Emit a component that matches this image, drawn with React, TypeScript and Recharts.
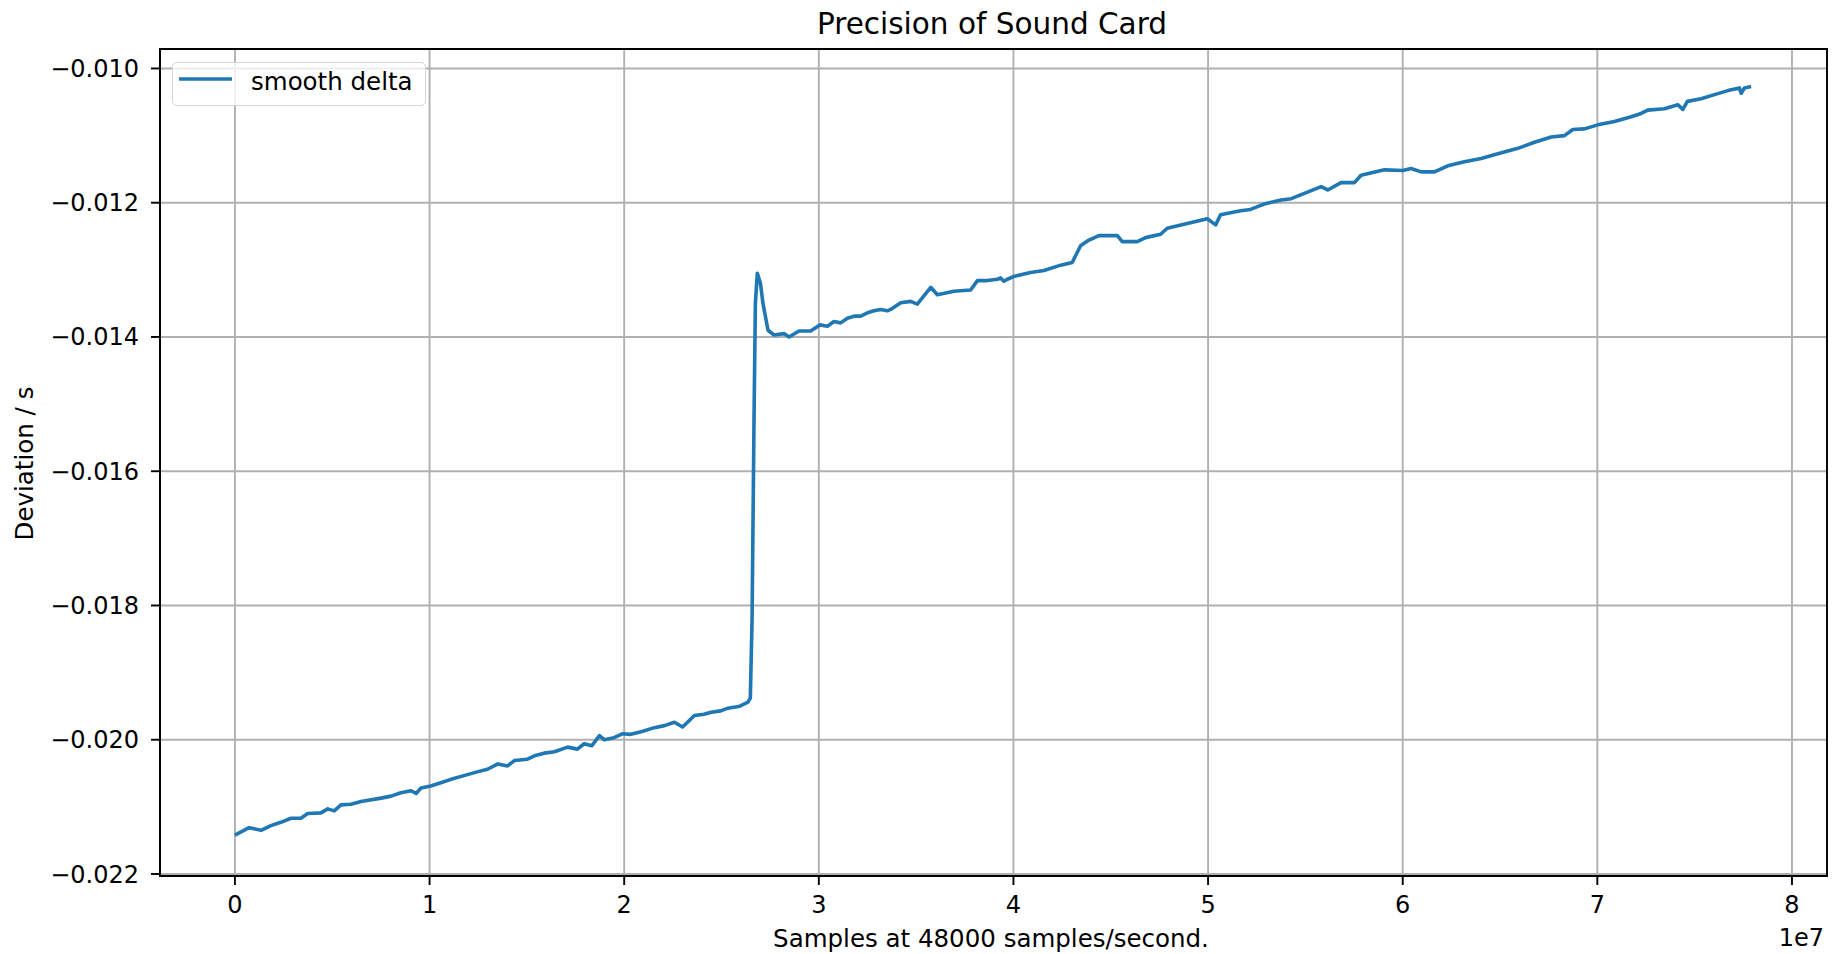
import {
  LineChart,
  Line,
  XAxis,
  YAxis,
  CartesianGrid,
  Legend,
  ReferenceArea,
} from "recharts";

// x positions in units of 1e7 samples (the axis shows the 1e7 offset)
const SAMPLES_E7 = [
  0.0, 0.073, 0.134, 0.185, 0.236, 0.288, 0.339, 0.374, 0.442, 0.477, 0.51,
  0.545, 0.596, 0.648, 0.751, 0.802, 0.853, 0.905, 0.931, 0.956, 1.006, 1.058,
  1.11, 1.195, 1.23, 1.298, 1.351, 1.401, 1.436, 1.503, 1.539, 1.589, 1.642,
  1.709, 1.76, 1.794, 1.833, 1.873, 1.897, 1.948, 1.993, 2.034, 2.087, 2.155,
  2.207, 2.258, 2.3, 2.361, 2.41, 2.447, 2.496, 2.533, 2.594, 2.636, 2.648,
  2.657, 2.667, 2.674, 2.684, 2.7, 2.713, 2.739, 2.77, 2.821, 2.847, 2.898,
  2.958, 3.005, 3.044, 3.078, 3.112, 3.147, 3.181, 3.215, 3.25, 3.284, 3.318,
  3.352, 3.369, 3.421, 3.472, 3.506, 3.575, 3.609, 3.694, 3.78, 3.815, 3.866,
  3.917, 3.934, 3.951, 3.969, 4.0, 4.088, 4.157, 4.243, 4.302, 4.345, 4.38,
  4.439, 4.534, 4.559, 4.636, 4.679, 4.756, 4.79, 4.893, 4.996, 5.039, 5.064,
  5.167, 5.218, 5.261, 5.289, 5.375, 5.427, 5.495, 5.581, 5.615, 5.683, 5.752,
  5.786, 5.906, 6.0, 6.043, 6.095, 6.163, 6.232, 6.317, 6.403, 6.489, 6.592,
  6.677, 6.763, 6.831, 6.874, 6.934, 7.003, 7.088, 7.174, 7.225, 7.259, 7.345,
  7.414, 7.439, 7.463, 7.533, 7.602, 7.671, 7.73, 7.739, 7.756, 7.79,
];

// smooth delta, seconds
const SMOOTH_DELTA = [
  -0.02142, -0.02131, -0.02135, -0.02128, -0.02123, -0.02117, -0.02117,
  -0.0211, -0.02109, -0.02103, -0.02106, -0.02097, -0.02096, -0.02092,
  -0.02087, -0.02084, -0.02079, -0.02076, -0.0208, -0.02072, -0.02069,
  -0.02064, -0.02059, -0.02052, -0.02049, -0.02044, -0.02036, -0.02039,
  -0.02031, -0.02029, -0.02024, -0.0202, -0.02018, -0.02011, -0.02014,
  -0.02006, -0.02009, -0.01994, -0.02, -0.01997, -0.01991, -0.01992, -0.01988,
  -0.01982, -0.01979, -0.01974, -0.01981, -0.01964, -0.01962, -0.01959,
  -0.01957, -0.01953, -0.0195, -0.01944, -0.01938, -0.01822, -0.01524,
  -0.0135, -0.01305, -0.0132, -0.0135, -0.0139, -0.01397, -0.01395, -0.014,
  -0.01391, -0.01391, -0.01382, -0.01384, -0.01377, -0.01379, -0.01372,
  -0.01369, -0.01369, -0.01364, -0.01361, -0.01359, -0.01361, -0.01359,
  -0.01349, -0.01347, -0.01351, -0.01326, -0.01337, -0.01332, -0.0133,
  -0.01316, -0.01316, -0.01314, -0.01312, -0.01317, -0.01314, -0.0131,
  -0.01304, -0.01301, -0.01293, -0.01289, -0.01264, -0.01257, -0.01249,
  -0.01249, -0.01258, -0.01258, -0.01252, -0.01247, -0.01238, -0.01231,
  -0.01224, -0.01233, -0.01218, -0.01212, -0.0121, -0.01205, -0.01202,
  -0.01196, -0.01194, -0.01186, -0.01176, -0.01181, -0.0117, -0.0117,
  -0.01159, -0.01151, -0.01152, -0.01149, -0.01154, -0.01154, -0.01145,
  -0.01139, -0.01134, -0.01127, -0.01119, -0.0111, -0.01102, -0.011, -0.01091,
  -0.0109, -0.01084, -0.01079, -0.01072, -0.01067, -0.01062, -0.0106,
  -0.01054, -0.01061, -0.01049, -0.01045, -0.01039, -0.01033, -0.01029,
  -0.01037, -0.01029, -0.01027,
];

const X_TICKS = [0, 1, 2, 3, 4, 5, 6, 7, 8];
const Y_TICKS = [-0.022, -0.02, -0.018, -0.016, -0.014, -0.012, -0.01];

const X_DOMAIN: [number, number] = [-0.385, 8.18];
const Y_DOMAIN: [number, number] = [-0.02203, -0.00971];

const FONT = "'DejaVu Sans', sans-serif";

const data = SAMPLES_E7.map((x, i) => ({ x, delta: SMOOTH_DELTA[i] }));

const formatY = (v: number) =>
  (v < 0 ? "\u2212" : "") + Math.abs(v).toFixed(3);

function LegendBox(props: any) {
  const name = props.payload?.[0]?.value ?? "smooth delta";
  return (
    <div
      style={{
        width: 254,
        height: 44,
        boxSizing: "border-box",
        border: "1.9px solid #d6d6d6",
        borderRadius: 5,
        background: "rgba(255,255,255,0.8)",
      }}
    >
      <svg width={250} height={40} style={{ display: "block" }}>
        <line x1={6} y1={16} x2={59} y2={16} stroke="#1f77b4" strokeWidth={3.6} />
        <text x={78} y={27} fontSize={24.5} fontFamily={FONT} fill="#000">
          {name}
        </text>
      </svg>
    </div>
  );
}

function App() {
  return (
    <div
      style={{
        position: "absolute",
        left: 0,
        top: 0,
        width: 1840,
        height: 954,
        background: "#fff",
        fontFamily: FONT,
      }}
    >
      <LineChart
        width={1840}
        height={954}
        data={data}
        margin={{ top: 49, right: 13, left: 0, bottom: 0 }}
      >
        <CartesianGrid stroke="#b0b0b0" strokeWidth={1.9} />
        <XAxis
          type="number"
          dataKey="x"
          domain={X_DOMAIN}
          ticks={X_TICKS}
          interval={0}
          allowDataOverflow
          height={78}
          tickSize={9}
          tickMargin={11}
          axisLine={{ stroke: "#000", strokeWidth: 1.9 }}
          tickLine={{ stroke: "#000", strokeWidth: 1.9 }}
          tick={{ fill: "#000", fontSize: 24, fontFamily: FONT }}
        />
        <YAxis
          type="number"
          domain={Y_DOMAIN}
          ticks={Y_TICKS}
          interval={0}
          allowDataOverflow
          width={160}
          tickSize={9}
          tickMargin={12}
          tickFormatter={formatY}
          axisLine={{ stroke: "#000", strokeWidth: 1.9 }}
          tickLine={{ stroke: "#000", strokeWidth: 1.9 }}
          tick={{ fill: "#000", fontSize: 24, fontFamily: FONT }}
        />
        <Legend
          layout="vertical"
          align="center"
          verticalAlign="middle"
          content={LegendBox}
          wrapperStyle={{ left: 172, top: 62, width: 254, height: 44 }}
        />
        <Line
          type="linear"
          dataKey="delta"
          name="smooth delta"
          stroke="#1f77b4"
          strokeWidth={3.6}
          strokeLinejoin="round"
          dot={false}
          activeDot={false}
          isAnimationActive={false}
        />
        <ReferenceArea
          x1={X_DOMAIN[0]}
          x2={X_DOMAIN[1]}
          y1={Y_DOMAIN[0]}
          y2={Y_DOMAIN[1]}
          fill="none"
          stroke="#000"
          strokeWidth={1.9}
          ifOverflow="visible"
        />
      </LineChart>
      <svg
        width={1840}
        height={954}
        style={{ position: "absolute", left: 0, top: 0, pointerEvents: "none" }}
      >
        <text x={992} y={34} textAnchor="middle" fontSize={29.5} fontFamily={FONT} fill="#000">
          Precision of Sound Card
        </text>
        <text x={991} y={947} textAnchor="middle" fontSize={24.5} fontFamily={FONT} fill="#000">
          Samples at 48000 samples/second.
        </text>
        <text x={1824} y={946} textAnchor="end" fontSize={24} fontFamily={FONT} fill="#000">
          1e7
        </text>
        <text
          transform="translate(33,463.5) rotate(-90)"
          textAnchor="middle"
          fontSize={24.5}
          fontFamily={FONT}
          fill="#000"
        >
          Deviation / s
        </text>
      </svg>
    </div>
  );
}

export default App;
